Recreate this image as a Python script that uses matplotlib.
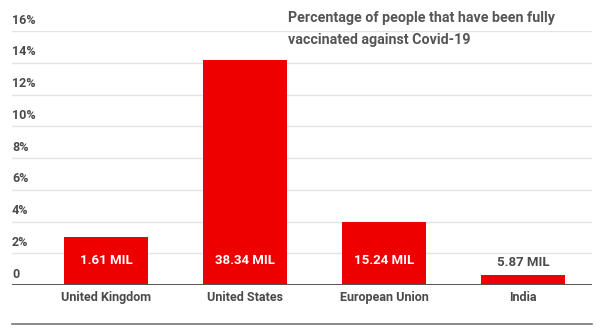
import numpy as np
import matplotlib.pyplot as plt
from matplotlib.transforms import blended_transform_factory

plt.rcParams['font.family'] = ['Roboto', 'DejaVu Sans']

# Data
countries = ["United Kingdom", "United States", "European Union", "India"]
pct_vaccinated = [3.0, 14.2, 4.0, 0.63]
people_vaccinated = ["1.61 MIL", "38.34 MIL", "15.24 MIL", "5.87 MIL"]
y_ticks = [0, 2, 4, 6, 8, 10, 12, 14, 16]
y_tick_labels = ["0", "2%", "4%", "6%", "8%", "10%", "12%", "14%", "16%"]
title_lines = ["Percentage of people that have been fully", "vaccinated against Covid-19"]

bar_color = "#ee0000"
text_color = "#4a4a4a"

fig = plt.figure(figsize=(6.14, 3.35), dpi=100)
ax = fig.add_axes([0.0195, 0.149, 0.9446, 0.758])

x = np.arange(len(countries))
ax.bar(x, pct_vaccinated, width=0.61, color=bar_color, zorder=3)

ax.set_xlim(-0.676, 3.496)
ax.set_ylim(0, 16)

# gridlines with labels sitting above them
trans = blended_transform_factory(ax.transAxes, ax.transData)
for t, lab in zip(y_ticks, y_tick_labels):
    if t == 0:
        ax.axhline(0, color="#555555", lw=1.4, zorder=4)
    else:
        ax.axhline(t, color="#e4e4e4", lw=1.0, zorder=1)
    ax.text(0.0, t + 0.28, lab, transform=trans, ha="left", va="bottom",
            fontsize=9, fontweight="bold", color=text_color)

# value labels
for xi, v, lab in zip(x, pct_vaccinated, people_vaccinated):
    if v > 2:
        ax.text(xi, 1.55, lab, ha="center", va="center", fontsize=9.5,
                fontweight="bold", color="white", zorder=5)
    else:
        ax.annotate(lab, (xi, v), xytext=(0, 9), textcoords="offset points",
                    ha="center", va="center", fontsize=9.5,
                    fontweight="bold", color=text_color)

ax.set_xticks(x)
ax.set_xticklabels(countries, fontsize=9, fontweight="bold", color=text_color)
ax.tick_params(axis="x", length=0, pad=4)
ax.set_yticks([])
for s in ax.spines.values():
    s.set_visible(False)

# chart title, two lines
for i, line in enumerate(title_lines):
    fig.text(288 / 614, 1 - (18 + 22 * i) / 335, line, ha="left", va="center",
             fontsize=10.3, fontweight="bold", color="#555555")

# separator line at the bottom
fig.add_artist(plt.Line2D([12 / 614, 592 / 614], [1 - 324 / 335, 1 - 324 / 335],
                          color="#777777", lw=1.2))

fig.savefig("out.png", dpi=100)
